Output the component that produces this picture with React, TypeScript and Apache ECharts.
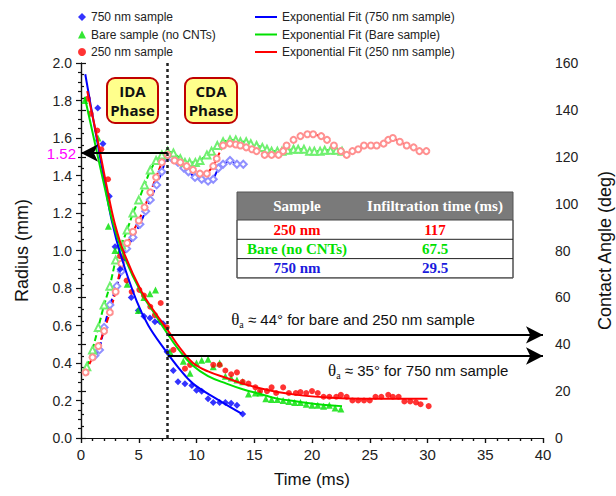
import React, { useEffect, useRef } from "react";
import * as echarts from "echarts";

// ---------- data (time in ms, radius in mm, angle in deg) ----------
const radius750: [number, number][] = [
  [1.45, 1.76], [1.9, 1.57], [2.45, 1.29], [2.95, 1.02], [3.38, 0.9], [4.35, 0.75], [4.96, 0.68],
  [5.45, 0.65], [5.97, 0.64], [6.4, 0.62], [6.84, 0.62], [7.1, 0.61], [7.45, 0.46], [7.99, 0.36],
  [8.4, 0.3], [9.0, 0.29], [9.6, 0.28], [10.0, 0.255], [10.45, 0.25], [11.0, 0.21], [11.45, 0.19],
  [12.0, 0.19], [12.5, 0.19], [13.0, 0.185], [13.5, 0.175], [14.0, 0.128],
];
const radiusBare: [number, number][] = [
  [0.33, 1.8], [1.47, 1.6], [2.37, 1.13], [2.94, 1.0], [4.0, 0.82], [4.96, 0.68], [5.45, 0.75],
  [5.97, 0.77], [6.45, 0.79], [7.7, 0.46], [8.86, 0.41], [9.44, 0.345], [10.0, 0.4], [10.45, 0.415],
  [11.0, 0.42], [11.45, 0.38], [12.0, 0.4], [12.5, 0.33], [13.0, 0.32], [13.5, 0.31], [14.0, 0.3],
  [14.5, 0.235], [15.1, 0.24], [15.5, 0.24], [16.0, 0.21], [16.5, 0.205], [17.0, 0.205],
  [17.5, 0.2], [18.0, 0.195], [18.5, 0.19], [19.0, 0.19], [19.5, 0.18], [20.0, 0.175],
  [20.5, 0.175], [21.0, 0.17], [21.5, 0.175], [22.0, 0.16], [22.5, 0.155],
];
const radius250: [number, number][] = [
  [0.6, 1.81], [0.84, 1.73], [1.41, 1.64], [1.76, 1.54], [2.34, 1.38], [3.38, 0.97], [3.95, 0.84],
  [4.39, 0.78], [5.05, 0.79], [5.45, 0.76], [6.0, 0.7], [6.4, 0.655], [6.9, 0.72], [7.42, 0.59],
  [8.0, 0.47], [9.0, 0.37], [9.44, 0.39], [11.45, 0.39], [12.0, 0.39], [12.5, 0.36], [13.0, 0.34],
  [13.5, 0.35], [14.0, 0.3], [14.5, 0.29], [15.1, 0.27], [15.5, 0.25], [16.1, 0.25], [16.5, 0.27],
  [16.9, 0.24], [17.5, 0.27], [18.0, 0.24], [18.6, 0.24], [19.0, 0.245], [19.5, 0.24], [20.0, 0.25],
  [20.5, 0.24], [21.0, 0.22], [21.5, 0.22], [22.1, 0.22], [22.5, 0.23], [23.0, 0.22], [23.5, 0.2],
  [24.0, 0.2], [24.5, 0.2], [25.0, 0.2], [25.5, 0.22], [26.0, 0.22], [26.6, 0.23], [27.0, 0.22],
  [27.5, 0.22], [28.0, 0.195], [28.5, 0.195], [29.0, 0.19], [29.4, 0.18], [30.1, 0.17],
];

const fit750: [number, number][] = [
  [0.37, 1.94], [1.0, 1.72], [2.0, 1.38], [2.66, 1.16], [3.52, 0.96], [4.82, 0.73], [5.83, 0.6],
  [7.27, 0.47], [8.5, 0.37], [9.7, 0.29], [11.7, 0.21], [13.9, 0.13],
];
const fitBare: [number, number][] = [
  [0.32, 1.82], [1.0, 1.63], [2.0, 1.35], [2.8, 1.14], [3.8, 0.96], [5.25, 0.77], [6.4, 0.66],
  [7.5, 0.555], [8.6, 0.46], [9.7, 0.385], [11.0, 0.33], [12.6, 0.29], [14.0, 0.26], [15.5, 0.235],
  [17.0, 0.21], [18.7, 0.195], [20.5, 0.18], [22.6, 0.17],
];
const fit250: [number, number][] = [
  [0.54, 1.85], [1.5, 1.57], [2.2, 1.35], [2.94, 1.14], [3.8, 0.975], [5.25, 0.78], [6.4, 0.67],
  [7.56, 0.57], [8.57, 0.48], [9.7, 0.4], [11.0, 0.355], [12.6, 0.32], [14.0, 0.29], [15.5, 0.265],
  [17.0, 0.245], [18.7, 0.23], [21.6, 0.215], [24.5, 0.21], [27.0, 0.21], [30.0, 0.21],
];

const angle750: [number, number][] = [
  [1.2, 35.2], [1.6, 37.6], [2.0, 47.2], [2.5, 56.8], [3.1, 64.8], [3.5, 71.2], [3.95, 80.8],
  [4.5, 85.6], [5.1, 91.2], [5.6, 96.8], [6.0, 101.6], [6.55, 108], [7.0, 113.6], [7.4, 120],
  [7.9, 119.2], [8.4, 117.6], [8.9, 115.2], [9.3, 113.6], [9.87, 111.2], [10.45, 110.4],
  [11.0, 109.6], [11.45, 110.4], [11.9, 115.2], [12.3, 116.8], [12.9, 118.4], [13.5, 116.8],
  [14.05, 116.8],
];
const angleBare: [number, number][] = [
  [0.5, 30.4], [1.0, 37.6], [1.5, 47.2], [2.0, 56.8], [2.5, 64.8], [3.0, 76], [3.5, 82.4],
  [4.0, 88.8], [4.5, 96], [5.0, 101.6], [5.5, 108], [6.0, 114.4], [6.5, 118.4], [7.0, 120.8],
  [7.5, 122.4], [8.0, 121.6], [8.6, 119.2], [9.0, 117.6], [9.4, 117.6], [9.9, 117.6], [10.3, 118.4],
  [10.9, 120.8], [11.3, 122.4], [11.8, 124.8], [12.3, 126.4], [12.9, 127.2], [13.4, 127.2],
  [13.8, 126.4], [14.3, 126.4], [14.7, 125.6], [15.2, 124.8], [15.7, 124], [16.1, 123.2],
  [16.5, 122.4], [17.0, 122.4], [17.4, 122.4], [17.9, 122.8], [18.4, 123.2], [18.8, 123.2],
  [19.3, 123.2], [19.8, 122.4], [20.2, 122.4], [20.7, 122.4], [21.1, 122.8], [21.6, 122.8],
  [22.1, 122.8], [22.6, 122.4],
];
const angle250: [number, number][] = [
  [0.4, 28], [1.0, 34.4], [1.5, 39.2], [2.0, 45.6], [2.5, 53.6], [3.0, 62.4], [3.5, 74.4],
  [4.0, 83.2], [4.5, 88], [5.0, 92.8], [5.5, 98.4], [6.0, 104.8], [6.5, 111.2], [7.0, 117.6],
  [7.5, 120.8], [8.1, 118.4], [8.6, 117.6], [9.15, 116], [9.7, 114.4], [10.3, 112.8], [10.9, 112.8],
  [11.45, 116], [11.75, 119.2], [12.3, 124.8], [12.9, 125.6], [13.4, 125.2], [13.8, 124.8],
  [14.3, 124], [14.8, 123.2], [15.2, 122.4], [15.9, 120.8], [16.5, 120.8], [17.1, 120.8],
  [17.5, 122.4], [17.8, 124.8], [18.4, 127.2], [19.0, 128.8], [19.6, 129.6], [20.1, 129.6],
  [20.8, 128.8], [21.3, 127.2], [21.9, 124.8], [22.5, 122.4], [23.0, 120.8], [23.5, 122.4],
  [24.0, 123.2], [24.5, 124.8], [25.1, 124.8], [25.6, 124.8], [26.2, 125.6], [26.6, 127.2],
  [27.0, 128], [27.6, 126.4], [28.2, 124.8], [28.8, 124], [29.3, 122.4], [29.9, 122.4],
];

const seriesNames = ["750 nm sample", "Bare sample (no CNTs)", "250 nm sample"];
const fitNames = [
  "Exponential Fit (750 nm sample)",
  "Exponential Fit (Bare sample)",
  "Exponential Fit (250 nm sample)",
];

const phaseBoundary = 7.5; // ms
const radiusAtBoundary = 1.52; // mm
const thetaBare250 = 44; // deg
const theta750 = 35; // deg

const tableHeader = ["Sample", "Infiltration time (ms)"];
const tableSamples = ["250 nm", "Bare (no CNTs)", "750 nm"];
const tableTimes = ["117", "67.5", "29.5"];
const phaseLabels = ["IDA\nPhase", "CDA\nPhase"];

// ---------- styles ----------
const BLUE = "#0000ff";
const GREEN = "#00e000";
const RED = "#ff0000";
const SANS = "'Liberation Sans', Arial, sans-serif";
const SERIF = "'Liberation Serif', 'Times New Roman', serif";

export default function App() {
  const ref = useRef<HTMLDivElement>(null);

  useEffect(() => {
    if (!ref.current) return;
    const chart = echarts.init(ref.current, undefined, { renderer: "svg" });

    const axisLine = { show: true, lineStyle: { color: "#111", width: 1.2 } };
    const tickStyle = { lineStyle: { color: "#111", width: 1.2 } };

    const option: any = {
      animation: false,
      backgroundColor: "#fff",
      grid: { left: 81, right: 73, top: 63, bottom: 58, containLabel: false, outerBoundsMode: "none" },
      legend: [
        {
          data: seriesNames,
          orient: "vertical",
          left: 73,
          top: 6,
          itemWidth: 8,
          itemHeight: 8,
          itemGap: 5.5,
          textStyle: { fontFamily: SANS, fontSize: 12, color: "#222" },
          selectedMode: false,
        },
        {
          data: fitNames.map((n) => ({ name: n, icon: "rect" })),
          orient: "vertical",
          left: 250,
          top: 6,
          itemWidth: 22,
          itemHeight: 2,
          itemGap: 5.5,
          textStyle: { fontFamily: SANS, fontSize: 12, color: "#222" },
          selectedMode: false,
        },
      ],
      xAxis: [
        {
          type: "value",
          min: 0,
          max: 40,
          interval: 5,
          position: "bottom",
          name: "Time (ms)",
          nameLocation: "middle",
          nameGap: 33,
          nameTextStyle: { fontFamily: SANS, fontSize: 17, color: "#111" },
          axisLine,
          axisTick: { show: true, length: 5, ...tickStyle },
          minorTick: { show: true, splitNumber: 5, length: 3, ...tickStyle },
          splitLine: { show: false },
          axisLabel: { fontFamily: SANS, fontSize: 15, color: "#222", margin: 9 },
        },
        {
          type: "value",
          min: 0,
          max: 40,
          interval: 5,
          position: "top",
          axisLine,
          axisTick: { show: true, inside: true, length: 5, ...tickStyle },
          minorTick: { show: true, splitNumber: 5, length: 3, ...tickStyle },
          splitLine: { show: false },
          axisLabel: { show: false },
        },
      ],
      yAxis: [
        {
          type: "value",
          min: 0,
          max: 2,
          interval: 0.2,
          position: "left",
          name: "Radius (mm)",
          nameLocation: "middle",
          nameRotate: 90,
          nameGap: 50,
          nameTextStyle: { fontFamily: SANS, fontSize: 18, color: "#111" },
          axisLine,
          axisTick: { show: true, length: 5, ...tickStyle },
          minorTick: { show: true, splitNumber: 4, length: 3, ...tickStyle },
          splitLine: { show: false },
          axisLabel: {
            fontFamily: SANS,
            fontSize: 14,
            color: "#222",
            margin: 9,
            formatter: (v: number) => v.toFixed(1),
          },
        },
        {
          type: "value",
          min: 0,
          max: 160,
          interval: 20,
          position: "right",
          name: "Contact Angle (deg)",
          nameLocation: "middle",
          nameRotate: 90,
          nameGap: 53,
          nameTextStyle: { fontFamily: SANS, fontSize: 18, color: "#111" },
          axisLine,
          axisTick: { show: true, length: 5, ...tickStyle },
          minorTick: { show: true, splitNumber: 4, length: 3, ...tickStyle },
          splitLine: { show: false },
          axisLabel: { fontFamily: SANS, fontSize: 14, color: "#222", margin: 12 },
        },
      ],
      series: [
        // contact angle (right axis)
        {
          type: "line",
          name: "ca750",
          yAxisIndex: 1,
          data: angle750,
          symbol: "emptyDiamond",
          symbolSize: 7,
          lineStyle: { color: BLUE, width: 2, type: [6, 3] },
          itemStyle: { color: "#9090ff", borderWidth: 1 },
          z: 2,
        },
        {
          type: "line",
          name: "caBare",
          yAxisIndex: 1,
          data: angleBare,
          symbol: "emptyTriangle",
          symbolSize: 7,
          lineStyle: { color: GREEN, width: 2, type: [6, 3] },
          itemStyle: { color: "#70f070", borderWidth: 1 },
          z: 2,
          markLine: {
            silent: true,
            symbol: ["none", "arrow"],
            symbolSize: [13, 17],
            label: { show: false },
            lineStyle: { color: "#000", width: 2, type: "solid" },
            data: [
              [{ coord: [phaseBoundary, thetaBare250] }, { coord: [40, thetaBare250] }],
              [{ coord: [phaseBoundary, theta750] }, { coord: [40, theta750] }],
            ],
          },
        },
        {
          type: "line",
          name: "ca250",
          yAxisIndex: 1,
          data: angle250,
          symbol: "emptyCircle",
          symbolSize: 6,
          lineStyle: { color: RED, width: 2, type: [6, 3] },
          itemStyle: { color: "#ff9090", borderWidth: 1 },
          z: 2,
        },
        // radius (left axis)
        {
          type: "scatter",
          name: seriesNames[0],
          data: radius750,
          symbol: "diamond",
          symbolSize: 7,
          itemStyle: { color: BLUE },
          z: 3,
        },
        {
          type: "scatter",
          name: seriesNames[1],
          data: radiusBare,
          symbol: "triangle",
          symbolSize: 7,
          itemStyle: { color: GREEN },
          z: 3,
        },
        {
          type: "scatter",
          name: seriesNames[2],
          data: radius250,
          symbol: "circle",
          symbolSize: 6,
          itemStyle: { color: RED },
          z: 3,
        },
        {
          type: "line",
          name: fitNames[0],
          data: fit750,
          smooth: 0.4,
          symbol: "none",
          lineStyle: { color: BLUE, width: 2 },
          itemStyle: { color: BLUE },
          z: 4,
        },
        {
          type: "line",
          name: fitNames[1],
          data: fitBare,
          smooth: 0.4,
          symbol: "none",
          lineStyle: { color: GREEN, width: 2 },
          itemStyle: { color: GREEN },
          z: 4,
        },
        {
          type: "line",
          name: fitNames[2],
          data: fit250,
          smooth: 0.4,
          symbol: "none",
          lineStyle: { color: RED, width: 2 },
          itemStyle: { color: RED },
          z: 4,
          markLine: {
            silent: true,
            symbol: ["none", "none"],
            label: { show: false },
            data: [
              [
                { coord: [phaseBoundary, 0], lineStyle: { color: "#222", width: 2.5, type: [3, 3] } },
                { coord: [phaseBoundary, 2] },
              ],
              [
                {
                  coord: [phaseBoundary, radiusAtBoundary],
                  lineStyle: { color: "#000", width: 2, type: "solid" },
                  label: {
                    show: true,
                    position: "end",
                    formatter: radiusAtBoundary.toFixed(2),
                    color: "#ff00ff",
                    fontFamily: SANS,
                    fontSize: 15,
                    distance: 5,
                  },
                },
                { coord: [0, radiusAtBoundary], symbol: "arrow", symbolSize: [13, 17] },
              ],
            ],
          },
        },
      ],
    };

    chart.setOption(option);

    // annotations placed from data coordinates
    const p44 = chart.convertToPixel({ xAxisIndex: 0, yAxisIndex: 1 }, [13.0, thetaBare250]) as number[];
    const p35 = chart.convertToPixel({ xAxisIndex: 0, yAxisIndex: 1 }, [37.0, theta750]) as number[];

    const rich = {
      t: { fontFamily: SERIF, fontSize: 17, fill: "#111" },
      s: { fontFamily: SERIF, fontSize: 10, fill: "#111", padding: [9, 0, 0, 0] },
      n: { fontFamily: SANS, fontSize: 15, fill: "#111" },
    };

    const tableLeft = 237;
    const tableTop = 192;
    const tableW = 276;
    const headH = 28;
    const rowH = 19.3;
    const col1 = 297;
    const col2 = 435;
    const rowColors = [RED, "#00e000", "#1a1add"];

    const tableEls: any[] = [
      { type: "rect", shape: { x: tableLeft, y: tableTop, width: tableW, height: headH }, style: { fill: "#7a7a7a" } },
      {
        type: "rect",
        shape: { x: tableLeft, y: tableTop + headH, width: tableW, height: rowH * 3 },
        style: { fill: "#fff", stroke: "#444", lineWidth: 1 },
      },
      {
        type: "rect",
        shape: { x: tableLeft, y: tableTop, width: tableW, height: headH + rowH * 3 },
        style: { fill: "none", stroke: "#555", lineWidth: 1 },
      },
      {
        type: "text",
        x: col1,
        y: tableTop + headH / 2,
        style: { text: tableHeader[0], font: `bold 15px ${SERIF}`, fill: "#fff", align: "center", verticalAlign: "middle" },
      },
      {
        type: "text",
        x: col2,
        y: tableTop + headH / 2,
        style: { text: tableHeader[1], font: `bold 15px ${SERIF}`, fill: "#fff", align: "center", verticalAlign: "middle" },
      },
    ];
    tableSamples.forEach((s, i) => {
      const cy = tableTop + headH + rowH * i + rowH / 2;
      if (i > 0) {
        tableEls.push({
          type: "line",
          shape: { x1: tableLeft, y1: tableTop + headH + rowH * i, x2: tableLeft + tableW, y2: tableTop + headH + rowH * i },
          style: { stroke: "#222", lineWidth: 1 },
        });
      }
      tableEls.push({
        type: "text",
        x: col1,
        y: cy,
        style: { text: s, font: `bold 15px ${SERIF}`, fill: rowColors[i], align: "center", verticalAlign: "middle" },
      });
      tableEls.push({
        type: "text",
        x: col2,
        y: cy,
        style: { text: tableTimes[i], font: `bold 15px ${SERIF}`, fill: rowColors[i], align: "center", verticalAlign: "middle" },
      });
    });

    const boxes = [
      { x: 107, y: 78, w: 51, h: 45 },
      { x: 185, y: 78, w: 52, h: 45 },
    ];
    const boxEls: any[] = [];
    boxes.forEach((b, i) => {
      boxEls.push({
        type: "rect",
        shape: { x: b.x, y: b.y, width: b.w, height: b.h, r: 8 },
        style: { fill: "#ffff8c", stroke: "#c00000", lineWidth: 2 },
      });
      boxEls.push({
        type: "text",
        x: b.x + b.w / 2,
        y: b.y + b.h / 2,
        style: {
          text: phaseLabels[i],
          font: `bold 15px 'Open Sans', ${SANS}`,
          lineHeight: 19,
          fill: "#111",
          align: "center",
          verticalAlign: "middle",
        },
      });
    });

    chart.setOption({
      graphic: [
        ...boxEls,
        ...tableEls,
        {
          type: "text",
          x: p44[0],
          y: p44[1] - 15,
          z: 10,
          style: {
            text: `{t|θ}{s|a}{n| ≈ ${thetaBare250}° for bare and 250 nm sample}`,
            rich,
            align: "left",
            verticalAlign: "middle",
          },
        },
        {
          type: "text",
          x: p35[0],
          y: p35[1] + 15,
          z: 10,
          style: {
            text: `{t|θ}{s|a}{n| ≈ ${theta750}° for 750 nm sample}`,
            rich,
            align: "right",
            verticalAlign: "middle",
          },
        },
      ],
    });

    return () => chart.dispose();
  }, []);

  return (
    <div
      ref={ref}
      style={{ position: "fixed", left: 0, top: 0, width: 616, height: 496, background: "#fff" }}
    />
  );
}
